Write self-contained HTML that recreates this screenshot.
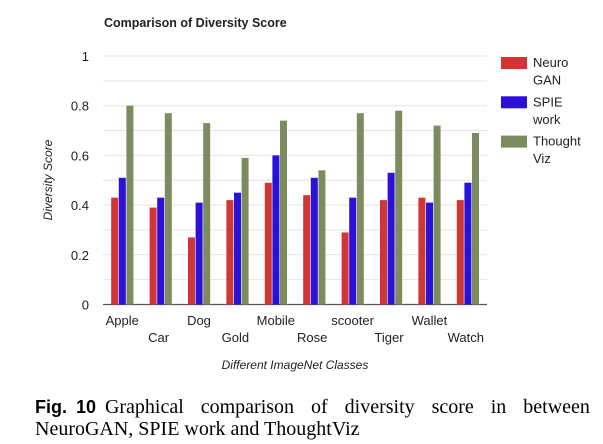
<!DOCTYPE html>
<html><head><meta charset="utf-8"><style>
body{margin:0;background:#fff;width:603px;height:444px;overflow:hidden;position:relative;font-family:"Liberation Sans",sans-serif}
.cap{position:absolute;left:35px;font-family:"Liberation Serif",serif;font-size:20px;line-height:22px;color:#000;white-space:nowrap}
</style></head><body>
<svg width="603" height="380" style="position:absolute;left:0;top:0" font-family="Liberation Sans, sans-serif">
<text x="104" y="27" font-size="12.5" font-weight="bold" fill="#222">Comparison of Diversity Score</text>
<g id="grid"></g><g id="bars"></g><g id="xl"></g>
<text transform="translate(52,180) rotate(-90)" text-anchor="middle" font-size="12" font-style="italic" fill="#222">Diversity Score</text>
<text x="295" y="369" text-anchor="middle" font-size="12" font-style="italic" fill="#222">Different ImageNet Classes</text>
<g id="legend"></g>
</svg>
<div class="cap" style="top:396px;width:555px;display:flex;justify-content:space-between"><b style="font-family:'Liberation Sans',sans-serif;font-size:18px">Fig.</b><b style="font-family:'Liberation Sans',sans-serif;font-size:18px;margin-left:-8px">10</b><span style="margin-left:-8px">Graphical</span><span>comparison</span><span>of</span><span>diversity</span><span>score</span><span>in</span><span>between</span></div>
<div class="cap" style="top:418px">NeuroGAN, SPIE work and ThoughtViz</div>
<script>
const categories=["Apple","Car","Dog","Gold","Mobile","Rose","scooter","Tiger","Wallet","Watch"];
const neuroGAN=[0.43,0.39,0.27,0.42,0.49,0.44,0.29,0.42,0.43,0.42];
const spieWork=[0.51,0.43,0.41,0.45,0.60,0.51,0.43,0.53,0.41,0.49];
const thoughtViz=[0.80,0.77,0.73,0.59,0.74,0.54,0.77,0.78,0.72,0.69];
const yTicks=[0,0.2,0.4,0.6,0.8,1];
const seriesNames=[["Neuro","GAN"],["SPIE","work"],["Thought","Viz"]];
const colors=["#d03636","#2a10d8","#7d8c5e"];
const NS="http://www.w3.org/2000/svg";
const x0=103,x1=487,y0=304.5,y1=56;
const y=v=>y0-(y0-y1)*v;
const bw=(x1-x0)/categories.length;
function mk(t,a,p){const e=document.createElementNS(NS,t);for(const k in a)e.setAttribute(k,a[k]);p.appendChild(e);return e;}
const grid=document.getElementById('grid');
for(let v=0.1;v<1.01;v+=0.1){const l=mk('line',{x1:x0,x2:x1,y1:y(v),y2:y(v),stroke:'#e4e4e4','stroke-width':1},grid);

}
yTicks.forEach(v=>{const t=mk('text',{x:89,y:y(v)+5,'text-anchor':'end','font-size':13,fill:'#222'},grid);t.textContent=String(v);

});
const ax=mk('line',{x1:x0,x2:x1,y1:y0,y2:y0,stroke:'#555','stroke-width':1.3},grid);


const bars=document.getElementById('bars');
const series=[neuroGAN,spieWork,thoughtViz];
categories.forEach((c,i)=>{const cx=x0+bw*(i+0.5);
series.forEach((s,j)=>{const r=mk('rect',{x:cx-11+j*7.6,y:y(s[i]),width:7,height:y0-y(s[i]),fill:colors[j]},bars);

});
const t=mk('text',{x:cx+(i%2?-2:0),y:i%2?342:325,'text-anchor':'middle','font-size':13,fill:'#222'},document.getElementById('xl'));t.textContent=c;

});
const lg=document.getElementById('legend');
seriesNames.forEach((n,j)=>{const gy=57+j*39.3;
const r=mk('rect',{x:501,y:gy,width:26,height:12,fill:colors[j]},lg);


n.forEach((w,k)=>{const t=mk('text',{x:533,y:gy+10+k*17.5,'font-size':13,fill:'#222'},lg);t.textContent=w;

});});
</script>
</body></html>
